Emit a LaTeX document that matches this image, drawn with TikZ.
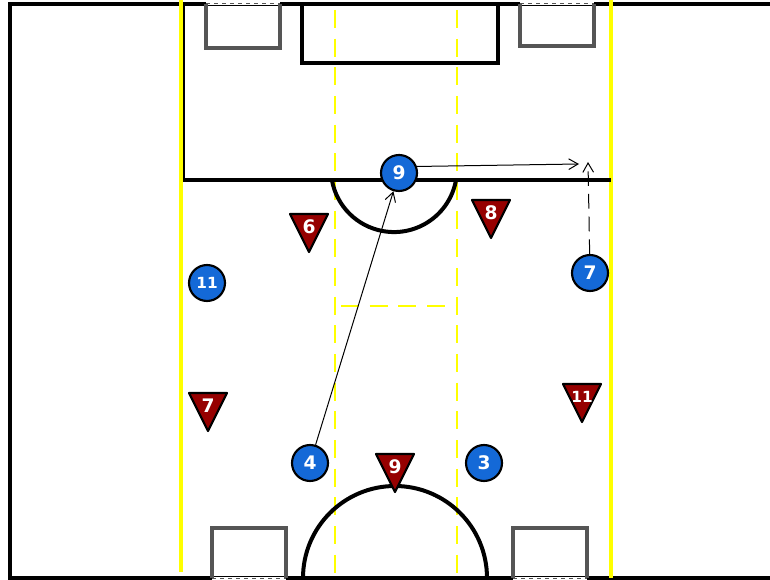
\documentclass[tikz,border=0pt]{standalone}
\usepackage{fontspec}
\setmainfont{DejaVu Sans}
\usetikzlibrary{arrows.meta,positioning}
\definecolor{pitchyellow}{RGB}{255,255,0}
\definecolor{homeblue}{RGB}{20,105,215}
\definecolor{awayred}{RGB}{150,0,0}
\definecolor{boxgray}{RGB}{85,85,85}
\newcommand{\shirt}[1]{\ifnum#1>9 \fontsize{11.5}{11.5}\selectfont\else\fontsize{14}{14}\selectfont\fi #1}

\begin{document}
\begin{tikzpicture}[x=0.75pt,y=-0.75pt,>={Straight Barb[length=7pt,width=8pt]},
  bluep/.style={circle,draw=black,line width=1.6pt,fill=homeblue,minimum size=27pt,
    inner sep=0pt,text=white,font=\bfseries},
  redp/.style={draw=black,line width=1.6pt,fill=awayred,line join=round},
  rnum/.style={inner sep=0pt,text=white,font=\bfseries},
  chalk/.style={pitchyellow,line width=3pt},
  zone/.style={pitchyellow,line width=1.5pt,dash pattern=on 13.5pt off 8pt},
  goalbox/.style={boxgray,line width=3pt},
  pass/.style={->,line width=0.75pt}]
  \useasboundingbox (0,0) rectangle (770,580);

  % Field border
  \draw[line width=2.5pt] (772,4) -| (10,578) -- (772,578);

  % Half-way zone lines
  \draw[chalk] (181,0) -- (181,572);
  \draw[chalk] (611,0) -- (611,578);
  \draw[zone] (335,10) -- (335,575);
  \draw[zone] (457,10) -- (457,575);
  \draw[zone] (341,306) -- (457,306);

  % Top area
  \draw[line width=1.5pt] (184,4) -- (184,180);
  \draw[line width=3pt] (183,180) -- (611,180);
  \draw[line width=3pt] (456,180) arc[start angle=10,end angle=170,radius=63];
  \draw[line width=3pt] (302,4) rectangle (498,63);

  % Small goals
  \foreach \gx/\gy/\gh in {206/4/44, 520/4/42} {
    \fill[white] (\gx,\gy-1.5) rectangle (\gx+74,\gy+1.5);
    \draw[goalbox] (\gx,\gy) |- (\gx+74,\gy+\gh) -- (\gx+74,\gy);
    \draw[boxgray,line width=0.75pt,dashed] (\gx,\gy) -- (\gx+74,\gy);
  }
  \foreach \gx/\gy/\gh in {212/578/50, 513/578/50} {
    \fill[white] (\gx,\gy-1.5) rectangle (\gx+74,\gy+3);
    \draw[goalbox] (\gx,\gy) |- (\gx+74,\gy-\gh) -- (\gx+74,\gy);
    \draw[boxgray,line width=0.75pt,dashed] (\gx,\gy) -- (\gx+74,\gy);
  }

  % Bottom circle
  \draw[line width=3pt] (487,578) arc[start angle=0,end angle=-180,radius=92];

  % Red team
  \foreach \n/\x/\y in {6/309/214, 8/491/200, 7/208/393, 11/582/384, 9/395/454} {
    \draw[redp] (\x-19,\y) -- (\x+19,\y) -- (\x,\y+38) -- cycle;
    \node[rnum] (r\n) at (\x,\y+13) {\shirt{\n}};
  }

  % Blue team
  \foreach \n/\x/\y in {9/399/173, 11/207/283, 7/590/273, 4/310/463, 3/484/463}
    \node[bluep] (b\n) at (\x,\y) {\shirt{\n}};

  % Passes and runs
  \coordinate (t9) at (579,164);
  \coordinate (t7) at (588,162);
  \draw[pass] (b4) -- (b9);
  \draw[pass] (b9.20) -- (t9);
  \draw[pass,dash pattern=on 11pt off 6pt] (b7) -- (t7);
\end{tikzpicture}
\end{document}
